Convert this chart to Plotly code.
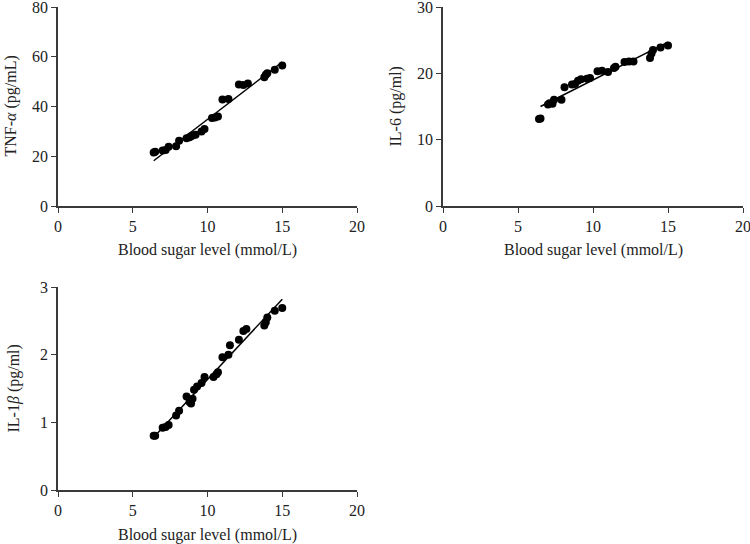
import plotly.graph_objects as go

# ---- data ----
tnf_x = [6.4, 6.5, 7.0, 7.2, 7.4, 7.9, 8.1, 8.6, 8.8, 8.9, 9.0, 9.2, 9.6, 9.8, 10.3, 10.5, 10.7,
         11.0, 11.4, 12.1, 12.4, 12.7, 13.8, 13.9, 14.0, 14.5, 15.0]
tnf_y = [21.5, 21.8, 22.3, 22.5, 23.8, 24.0, 26.2, 27.2, 27.6, 28.0, 28.3, 28.6, 30.0, 31.0, 35.4,
         35.6, 36.0, 42.8, 43.0, 48.8, 48.6, 49.2, 51.8, 52.8, 53.4, 54.8, 56.5]
tnf_fit_x = [6.4, 15.0]
tnf_fit_y = [18.2, 57.9]

il6_x = [6.4, 6.5, 7.0, 7.1, 7.3, 7.4, 7.9, 8.1, 8.6, 8.8, 9.0, 9.2, 9.6, 9.8, 10.3, 10.6, 11.0,
         11.4, 11.5, 12.1, 12.4, 12.7, 13.8, 13.9, 14.0, 14.5, 15.0]
il6_y = [13.1, 13.2, 15.3, 15.5, 15.4, 16.0, 16.0, 17.9, 18.3, 18.4, 18.9, 19.1, 19.2, 19.3, 20.3,
         20.4, 20.2, 20.8, 21.0, 21.7, 21.8, 21.8, 22.3, 23.0, 23.5, 23.9, 24.2]
il6_fit_x = [6.5, 15.0]
il6_fit_y = [15.0, 24.7]

il1b_x = [6.4, 6.5, 7.0, 7.2, 7.4, 7.9, 8.1, 8.6, 8.8, 8.9, 9.0, 9.1, 9.3, 9.6, 9.8, 10.4, 10.6,
          10.7, 11.0, 11.4, 11.5, 12.1, 12.4, 12.6, 13.8, 13.9, 14.0, 14.5, 15.0]
il1b_y = [0.80, 0.80, 0.92, 0.93, 0.96, 1.10, 1.17, 1.38, 1.30, 1.28, 1.35, 1.48, 1.53, 1.58, 1.67,
          1.67, 1.71, 1.74, 1.96, 2.00, 2.14, 2.22, 2.35, 2.38, 2.43, 2.48, 2.55, 2.65, 2.69]
il1b_fit_x = [6.4, 15.0]
il1b_fit_y = [0.78, 2.82]

x_ticks = [0, 5, 10, 15, 20]
tnf_ticks = [0, 20, 40, 60, 80]
il6_ticks = [0, 10, 20, 30]
il1b_ticks = [0, 1, 2, 3]

x_title = "Blood sugar level (mmol/L)"
y_titles = ["TNF-<i>α</i> (pg/mL)", "IL-6 (pg/ml)", "IL-1<i>β</i> (pg/ml)"]

# ---- figure ----
W, H = 750, 544
FONT = "Liberation Serif"
AX = "#3a3a3a"

fig = go.Figure()
panels = [
    (tnf_x, tnf_y, tnf_fit_x, tnf_fit_y, "x", "y"),
    (il6_x, il6_y, il6_fit_x, il6_fit_y, "x2", "y2"),
    (il1b_x, il1b_y, il1b_fit_x, il1b_fit_y, "x3", "y3"),
]
for px, py, fx, fy, xa, ya in panels:
    fig.add_trace(go.Scatter(x=fx, y=fy, mode="lines", xaxis=xa, yaxis=ya,
                             line=dict(color="black", width=1.5), showlegend=False,
                             hoverinfo="skip", cliponaxis=False))
    fig.add_trace(go.Scatter(x=px, y=py, mode="markers", xaxis=xa, yaxis=ya,
                             marker=dict(color="black", size=8), showlegend=False,
                             cliponaxis=False))

common = dict(showline=True, linecolor=AX, linewidth=1.5, ticks="outside",
              ticklen=5, tickwidth=1.2, tickcolor=AX, showgrid=False, zeroline=False,
              automargin=False, ticklabeloverflow="allow",
              tickfont=dict(family=FONT, size=16, color="#222"), fixedrange=True)

def xax(dom, anchor):
    return dict(domain=dom, anchor=anchor, range=[0, 20], tickvals=x_ticks, **common)

def yax(dom, anchor, rng, tv):
    return dict(domain=dom, anchor=anchor, range=rng, tickvals=tv, **common)

def px2x(p):
    return p / W

def px2y(p):
    return 1 - p / H

d1x = [px2x(58), px2x(357)]
d2x = [px2x(443), px2x(743)]
dtop = [px2y(206), px2y(7)]
dbot = [px2y(490), px2y(287)]

fig.update_layout(
    template="none",
    width=W, height=H, margin=dict(l=0, r=0, t=0, b=0, autoexpand=False),
    paper_bgcolor="white", plot_bgcolor="white",
    xaxis=xax(d1x, "y"), yaxis=yax(dtop, "x", [0, 80], tnf_ticks),
    xaxis2=xax(d2x, "y2"), yaxis2=yax(dtop, "x2", [0, 30], il6_ticks),
    xaxis3=xax(d1x, "y3"), yaxis3=yax(dbot, "x3", [0, 3], il1b_ticks),
    showlegend=False,
)

tf = dict(family=FONT, size=16, color="#222")
ann = [
    dict(x=sum(d1x) / 2, y=px2y(250), text=x_title),
    dict(x=sum(d2x) / 2, y=px2y(250), text=x_title),
    dict(x=sum(d1x) / 2, y=px2y(535), text=x_title),
    dict(x=px2x(10), y=sum(dtop) / 2, text=y_titles[0], textangle=-90),
    dict(x=px2x(395), y=sum(dtop) / 2, text=y_titles[1], textangle=-90),
    dict(x=px2x(13), y=sum(dbot) / 2, text=y_titles[2], textangle=-90),
]
for a in ann:
    a.update(xref="paper", yref="paper", showarrow=False, font=tf,
             xanchor="center", yanchor="middle")
fig.update_layout(annotations=ann)

fig.write_html("out.html",
               config={"displayModeBar": False},
               post_script="document.body.style.margin='0';document.body.style.overflow='hidden';")
